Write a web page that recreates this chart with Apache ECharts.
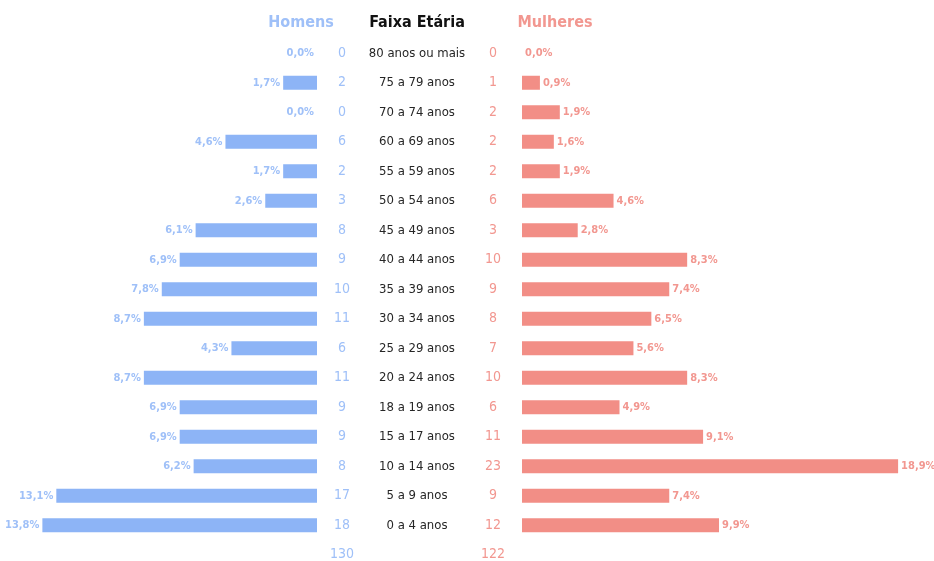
<!DOCTYPE html>
<html>
<head>
<meta charset="utf-8">
<script src="https://cdn.jsdelivr.net/npm/echarts@6/dist/echarts.min.js"></script>
<style>
  html, body { margin: 0; padding: 0; background: #fff; }
  #chart { width: 934px; height: 561px; }
</style>
</head>
<body>
<div id="chart"></div>
<script>
// faixas etárias
const ageGroups = ['80 anos ou mais', '75 a 79 anos', '70 a 74 anos', '60 a 69 anos', '55 a 59 anos',
  '50 a 54 anos', '45 a 49 anos', '40 a 44 anos', '35 a 39 anos', '30 a 34 anos', '25 a 29 anos',
  '20 a 24 anos', '18 a 19 anos', '15 a 17 anos', '10 a 14 anos', '5 a 9 anos', '0 a 4 anos']

const menCount = [0, 2, 0, 6, 2, 3, 8, 9, 10, 11, 6, 11, 9, 9, 8, 17, 18]
const menPct = [0.0, 1.7, 0.0, 4.6, 1.7, 2.6, 6.1, 6.9, 7.8, 8.7, 4.3, 8.7, 6.9, 6.9, 6.2, 13.1, 13.8]
const menTotal = 130

const womenCount = [0, 1, 2, 2, 2, 6, 3, 10, 9, 8, 7, 10, 6, 11, 23, 9, 12]
const womenPct = [0.0, 0.9, 1.9, 1.6, 1.9, 4.6, 2.8, 8.3, 7.4, 6.5, 5.6, 8.3, 4.9, 9.1, 18.9, 7.4, 9.9]
const womenTotal = 122

const blue = '#8db4f6'
const blueText = '#9fc0f8'
const red = '#f28e86'
const redText = '#f29790'
const font = '"DejaVu Sans Condensed", "Liberation Sans Narrow", Roboto, sans-serif'

const chart = echarts.init(document.getElementById('chart'))

const pctLabel = function (p) {
  return p.value.toFixed(1).replace('.', ',') + '%'
}

const hiddenX = function (idx, max, inverse) {
  return {
    gridIndex: idx, type: 'value', min: 0, max: max, inverse: inverse, show: false
  }
}

const catAxis = function (idx, pos, labels, color, margin, size) {
  return {
    gridIndex: idx,
    type: 'category',
    inverse: true,
    position: pos,
    data: ageGroups,
    axisLine: { show: false },
    axisTick: { show: false },
    splitLine: { show: false },
    axisLabel: {
      interval: 0,
      align: 'center',
      margin: margin,
      color: color,
      fontFamily: font,
      fontSize: size,
      formatter: function (v, i) { return labels[i] }
    }
  }
}

const txt = function (x, y, s, color, size, weight) {
  return {
    type: 'text', x: x, y: y,
    style: {
      text: String(s), fill: color, align: 'center', verticalAlign: 'middle',
      font: weight + ' ' + size + 'px ' + font
    }
  }
}

let option = {
  animation: false,
  grid: [
    { left: 18.5, width: 298.5, top: 38.5, height: 501.5 },
    { left: 417, width: 1, top: 38.5, height: 501.5 },
    { left: 522, width: 398, top: 38.5, height: 501.5 }
  ],
  xAxis: [
    hiddenX(0, 15, true),
    hiddenX(1, 1, false),
    hiddenX(2, 20, false)
  ],
  yAxis: [
    catAxis(0, 'right', menCount, blueText, 25, 14),
    catAxis(1, 'left', ageGroups, '#262626', 0, 13),
    catAxis(2, 'left', womenCount, redText, 29, 14)
  ],
  graphic: [
    txt(301, 23, 'Homens', blueText, 16, 'bold'),
    txt(417, 23, 'Faixa Etária', '#111', 16, 'bold'),
    txt(555, 23, 'Mulheres', redText, 16, 'bold'),
    txt(342, 554, menTotal, blueText, 14, 'normal'),
    txt(493, 554, womenTotal, redText, 14, 'normal')
  ],
  series: [
    {
      name: 'Homens',
      type: 'bar',
      xAxisIndex: 0,
      yAxisIndex: 0,
      barWidth: 14,
      itemStyle: { color: blue },
      label: {
        show: true,
        position: 'left',
        distance: 3,
        color: blueText,
        fontFamily: font,
        fontSize: 11,
        fontWeight: 'bold',
        formatter: pctLabel
      },
      data: menPct
    },
    {
      name: 'Mulheres',
      type: 'bar',
      xAxisIndex: 2,
      yAxisIndex: 2,
      barWidth: 14,
      itemStyle: { color: red },
      label: {
        show: true,
        position: 'right',
        distance: 3,
        color: redText,
        fontFamily: font,
        fontSize: 11,
        fontWeight: 'bold',
        formatter: pctLabel
      },
      data: womenPct
    }
  ]
}

chart.setOption(option)
</script>
</body>
</html>
